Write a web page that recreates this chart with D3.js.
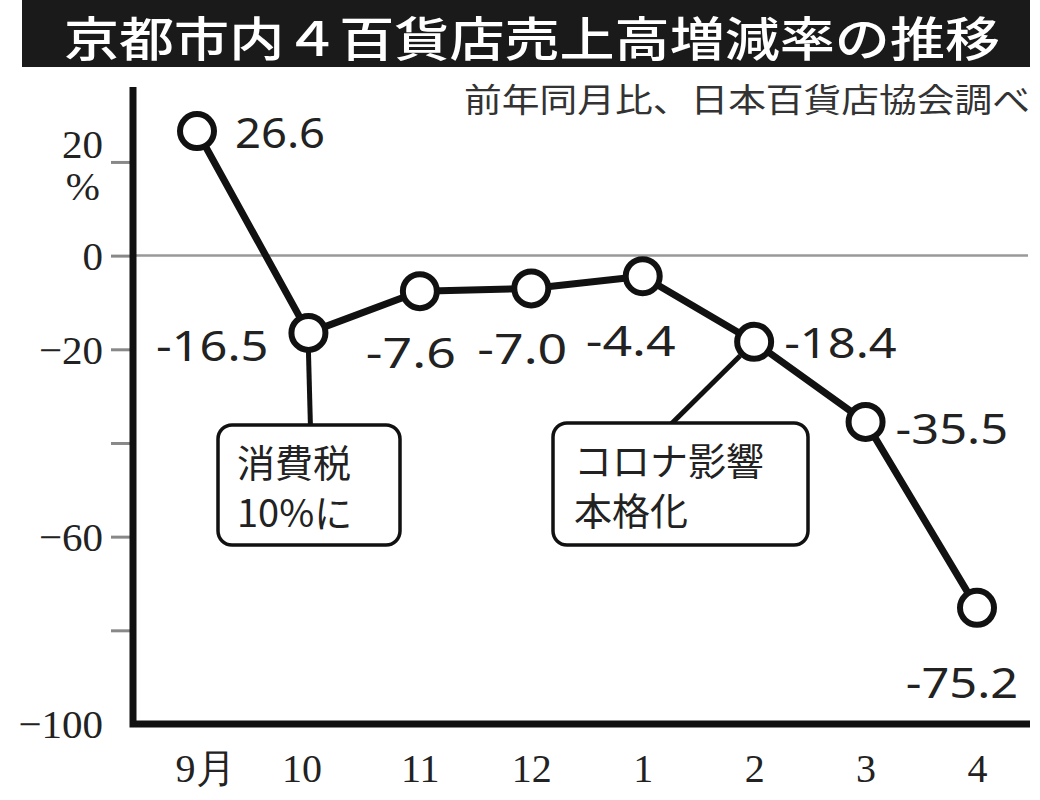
<!DOCTYPE html>
<html><head><meta charset="utf-8">
<script src="https://cdn.jsdelivr.net/npm/d3@7"></script>
<style>body{margin:0;background:#fff}</style>
</head><body>
<svg id="c" width="1040" height="800"></svg>
<script>
const title = "京都市内４百貨店売上高増減率の推移";
const subtitle = "前年同月比、日本百貨店協会調べ";
const months = ["9月","10","11","12","1","2","3","4"];
const values = [26.6,-16.5,-7.6,-7.0,-4.4,-18.4,-35.5,-75.2];
const valueLabels = ["26.6","-16.5","-7.6","-7.0","-4.4","-18.4","-35.5","-75.2"];
const yTicks = [20,0,-20,-40,-60,-80,-100];
const yTickLabels = ["20","0","−20","","−60","","−100"];
const notes = [
  {month:"10", lines:["消費税","10%に"]},
  {month:"2", lines:["コロナ影響","本格化"]}
];

const svg = d3.select("#c");
const sans = "'Noto Sans CJK JP','Noto Sans',sans-serif";
const serif = "'Liberation Serif','DejaVu Serif',serif";

// title bar
svg.append("rect").attr("x",22).attr("y",0).attr("width",1008).attr("height",67).attr("fill","#1a1a1a");
svg.append("text").attr("x",64).attr("y",56).attr("fill","#fff")
  .attr("font-family",sans).attr("font-size",47).attr("font-weight",500)
  .attr("textLength",936).attr("lengthAdjust","spacingAndGlyphs").text(title);
svg.append("text").attr("x",1030).attr("y",112).attr("text-anchor","end").attr("fill","#333")
  .attr("font-family",sans).attr("font-size",33).attr("textLength",566).attr("lengthAdjust","spacingAndGlyphs").text(subtitle);

const x = d3.scalePoint().domain(months).range([197,977]);
const y = d3.scaleLinear().domain([-100,36]).range([724,87]);
const axisX = 133;

// zero line
svg.append("line").attr("x1",axisX).attr("x2",1028).attr("y1",y(0)).attr("y2",y(0))
  .attr("stroke","#999").attr("stroke-width",2.5);

// y ticks
const yAxis = svg.append("g").attr("transform",`translate(${axisX},0)`)
  .call(d3.axisLeft(y).tickValues(yTicks).tickSize(22).tickPadding(8).tickFormat((d,i)=>yTickLabels[i]));
yAxis.select(".domain").remove();
yAxis.selectAll(".tick line").attr("stroke","#888").attr("stroke-width",3)
  .attr("display",d=>d===-100?"none":null);
yAxis.selectAll(".tick text").attr("font-family",serif).attr("font-size",41).attr("fill","#222")
  .attr("dy","0.34em");
yAxis.selectAll(".tick").filter(d=>d===20).select("text").attr("dy","-0.1em");
svg.append("text").attr("x",100).attr("y",y(20)+38).attr("text-anchor","end")
  .attr("font-family",serif).attr("font-size",41).attr("fill","#222").text("%");

// axes frame
svg.append("path").attr("d",`M${axisX},${y(36)} V${y(-100)} H1030`)
  .attr("fill","none").attr("stroke","#111").attr("stroke-width",7);

// x labels
const xAxis = svg.append("g").attr("transform",`translate(0,${y(-100)})`)
  .call(d3.axisBottom(x).tickSize(0).tickPadding(30));
xAxis.select(".domain").remove();
xAxis.selectAll(".tick text").attr("font-family",serif).attr("font-size",40).attr("fill","#222")
  .attr("dx",(d,i)=>i===0?8:(i===1?-7:0));

// annotations
const boxes = [
  {x:218,y:425,w:182,h:120, from:[0,18], to:[2,98], tx:237},
  {x:553,y:423,w:255,h:122, from:[-14,14], to:[-83,83], tx:574}
];
notes.forEach((n,i)=>{
  const b = boxes[i];
  const px = x(n.month), py = y(values[months.indexOf(n.month)]);
  svg.append("line").attr("x1",px+b.from[0]).attr("y1",py+b.from[1])
    .attr("x2",px+b.to[0]).attr("y2",b.y+1)
    .attr("stroke","#111").attr("stroke-width",5);
  svg.append("rect").attr("x",b.x).attr("y",b.y).attr("width",b.w).attr("height",b.h)
    .attr("rx",14).attr("fill","#fff").attr("stroke","#111").attr("stroke-width",3.5);
  n.lines.forEach((l,j)=>{
    svg.append("text").attr("x",b.tx).attr("y",b.y+52+j*50).attr("font-family",sans)
      .attr("font-size",38).attr("fill","#222").text(l);
  });
});

// line
svg.append("path").datum(values)
  .attr("d",d3.line().x((d,i)=>x(months[i])).y(d=>y(d)))
  .attr("fill","none").attr("stroke","#111").attr("stroke-width",7).attr("stroke-linejoin","round");
svg.selectAll("circle.pt").data(values).join("circle").attr("class","pt")
  .attr("cx",(d,i)=>x(months[i])).attr("cy",d=>y(d)).attr("r",17)
  .attr("fill","#fff").attr("stroke","#111").attr("stroke-width",6);

// value labels
const place = [
  {dx:38,dy:17,a:"start"},{dx:-40,dy:28,a:"end"},{dx:-9,dy:77,a:"middle"},{dx:-9,dy:76,a:"middle"},
  {dx:-12,dy:80,a:"middle"},{dx:30,dy:16,a:"start"},{dx:30,dy:22,a:"start"},{dx:-15,dy:90,a:"middle"}
];
svg.selectAll("text.vl").data(values).join("text").attr("class","vl")
  .attr("x",(d,i)=>x(months[i])+place[i].dx).attr("y",(d,i)=>y(d)+place[i].dy)
  .attr("text-anchor",(d,i)=>place[i].a)
  .attr("font-family","'Noto Sans','Open Sans',sans-serif").attr("font-size",42).attr("fill","#222")
  .attr("textLength",(d,i)=>valueLabels[i].length*22.5).attr("lengthAdjust","spacingAndGlyphs")
  .text((d,i)=>valueLabels[i]);
</script>
</body></html>
